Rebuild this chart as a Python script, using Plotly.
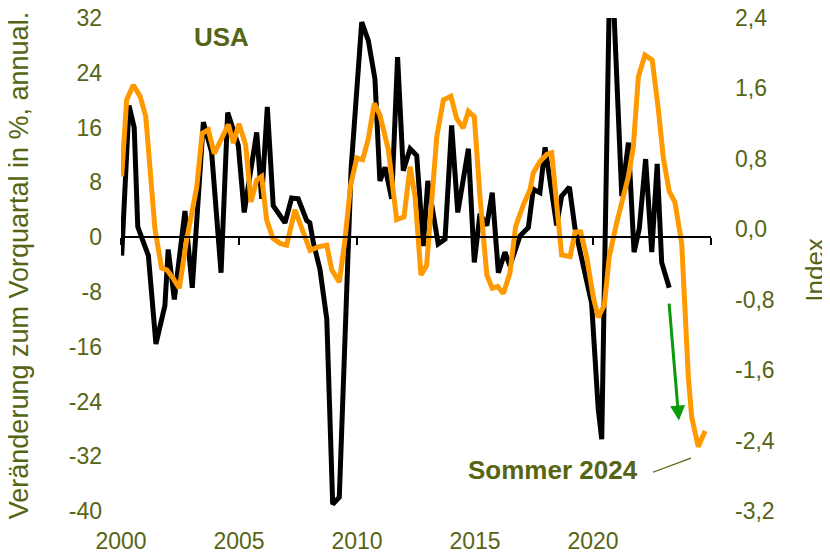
import plotly.graph_objects as go

# ---- data ----
black_t = [2000.03, 2000.34, 2000.56, 2000.71, 2001.16, 2001.48, 2001.86, 2002.00, 2002.26, 2002.71,
           2003.02, 2003.49, 2003.84, 2004.24, 2004.52, 2004.97, 2005.22, 2005.75, 2005.96, 2006.20,
           2006.45, 2006.95, 2007.23, 2007.51, 2007.87, 2008.00, 2008.15, 2008.43, 2008.72, 2008.97,
           2009.25, 2009.50, 2009.75, 2010.20, 2010.48, 2010.76, 2010.97, 2011.19, 2011.47, 2011.72,
           2011.96, 2012.25, 2012.53, 2012.81, 2013.00, 2013.44, 2013.73, 2014.01, 2014.27, 2014.72,
           2014.97, 2015.21, 2015.50, 2015.73, 2015.99, 2016.27, 2016.48, 2016.91, 2017.26, 2017.47,
           2017.75, 2017.97, 2018.46, 2018.67, 2019.00, 2019.24, 2019.66, 2019.94, 2020.22, 2020.37,
           2020.74, 2021.07, 2021.22, 2021.50, 2021.74, 2021.96, 2022.23, 2022.49, 2022.72, 2022.91,
           2023.23]
black_v = [-2.7, 19.2, 16.0, 1.5, -2.7, -15.6, -10.0, -1.8, -9.1, 3.8,
           -7.4, 16.8, 12.4, -5.2, 18.2, 13.4, 3.6, 15.3, 5.6, 19.0,
           4.6, 2.1, 5.7, 5.6, 2.4, 2.1, -0.8, -4.7, -12.0, -39.0,
           -38.0, -14.0, 10.0, 31.4, 28.7, 23.1, 8.2, 10.2, 5.6, 26.3,
           9.7, 12.9, 11.9, -1.3, 8.2, -1.0, -0.3, 16.3, 3.6, 12.9,
           -3.7, 3.4, 1.7, 6.5, -5.2, -2.2, -4.2, 0.2, 1.4, 7.0,
           6.5, 13.1, 1.7, 6.0, 7.3, 1.2, -5.7, -9.6, -25.0, -29.5,
           45.0, 19.7, 6.0, 13.8, -2.2, 1.2, 11.4, -2.2, 10.7, -3.7,
           -7.4]

orange_t = [2000.03, 2000.24, 2000.52, 2000.81, 2001.05, 2001.44, 2001.72, 2001.94, 2002.22, 2002.47,
            2002.78, 2003.21, 2003.44, 2003.70, 2003.95, 2004.24, 2004.55, 2004.76, 2005.00, 2005.28,
            2005.51, 2005.75, 2005.96, 2006.17, 2006.43, 2006.74, 2007.02, 2007.37, 2007.72, 2008.01,
            2008.36, 2008.72, 2008.93, 2009.25, 2009.49, 2009.73, 2009.99, 2010.24, 2010.48, 2010.73,
            2010.97, 2011.33, 2011.68, 2011.99, 2012.25, 2012.46, 2012.71, 2012.95, 2013.38, 2013.66,
            2013.98, 2014.22, 2014.50, 2014.72, 2014.97, 2015.21, 2015.50, 2015.73, 2015.96, 2016.20,
            2016.48, 2016.72, 2017.05, 2017.33, 2017.47, 2017.75, 2018.04, 2018.25, 2018.39, 2018.67,
            2019.03, 2019.24, 2019.48, 2019.73, 2020.01, 2020.22, 2020.48, 2020.69, 2021.00, 2021.50,
            2021.71, 2021.92, 2022.20, 2022.51, 2022.77, 2022.98, 2023.23, 2023.47, 2023.76, 2023.90,
            2024.04, 2024.18, 2024.46, 2024.75]
orange_v = [0.60, 1.47, 1.64, 1.51, 1.28, 0.00, -0.44, -0.46, -0.56, -0.67,
            -0.12, 0.48, 1.09, 1.13, 0.86, 1.03, 1.19, 0.98, 1.20, 0.96,
            0.31, 0.56, 0.60, 0.11, -0.10, -0.16, -0.18, 0.22, -0.05, -0.24,
            -0.20, -0.18, -0.46, -0.60, -0.12, 0.50, 0.81, 0.79, 1.03, 1.43,
            1.30, 0.90, 0.11, 0.14, 0.71, 0.37, -0.52, -0.41, 1.05, 1.47,
            1.51, 1.26, 1.15, 1.34, 1.28, 0.37, -0.52, -0.67, -0.65, -0.73,
            -0.50, 0.03, 0.28, 0.45, 0.64, 0.77, 0.85, 0.87, 0.48, -0.29,
            -0.31, -0.03, -0.03, -0.31, -0.77, -1.00, -0.86, -0.31, 0.07, 0.60,
            0.94, 1.73, 1.98, 1.92, 1.36, 0.81, 0.43, 0.31, -0.16, -0.92,
            -1.68, -2.13, -2.47, -2.29]

x_label_vals = [2000, 2005, 2010, 2015, 2020]
x_label_text = ["2000", "2005", "2010", "2015", "2020"]
x_tick_vals = [2000, 2005, 2010, 2015, 2020, 2025]
left_tick_vals = [-40, -32, -24, -16, -8, 0, 8, 16, 24, 32]
left_tick_text = ["-40", "-32", "-24", "-16", "-8", "0", "8", "16", "24", "32"]
right_tick_vals = [-3.2, -2.4, -1.6, -0.8, 0.0, 0.8, 1.6, 2.4]
right_tick_text = ["-3,2", "-2,4", "-1,6", "-0,8", "0,0", "0,8", "1,6", "2,4"]

OLIVE = "#566514"
ORANGE = "#FF9900"
GREEN = "#0A9A0A"
FONT = "Liberation Sans, Arial, sans-serif"

fig = go.Figure()
fig.add_trace(go.Scatter(x=black_t, y=black_v, mode="lines",
                         line=dict(color="black", width=5), xaxis="x", yaxis="y",
                         showlegend=False))
fig.add_trace(go.Scatter(x=orange_t, y=orange_v, mode="lines",
                         line=dict(color=ORANGE, width=5), xaxis="x", yaxis="y2",
                         showlegend=False))
# invisible trace to activate xaxis2 (the zero-line axis with its ticks)
fig.add_trace(go.Scatter(x=[2000, 2025], y=[0, 0], mode="lines", line=dict(width=0),
                         xaxis="x2", yaxis="y", showlegend=False, hoverinfo="skip"))

fig.update_layout(
    width=830, height=556,
    margin=dict(l=113, r=127, t=10, b=53, autoexpand=False),
    paper_bgcolor="white", plot_bgcolor="white",
    font=dict(family=FONT, color=OLIVE, size=23),
    xaxis=dict(range=[2000, 2025], tickvals=x_label_vals, ticktext=x_label_text,
               showgrid=False, zeroline=False, showline=False, ticks="", automargin=False,
               ticklabeloverflow="allow",
               ticklabelstandoff=14, tickfont=dict(size=23, color=OLIVE)),
    xaxis2=dict(range=[2000, 2025], overlaying="x", anchor="free", automargin=False,
                position=40 / 72, side="bottom", showgrid=False, zeroline=False,
                showline=True, linecolor="black", linewidth=1.6,
                ticks="outside", ticklen=7, tickwidth=1.6, tickcolor="black",
                tickvals=x_tick_vals, showticklabels=False),
    yaxis=dict(range=[-40, 32], tickvals=left_tick_vals, ticktext=left_tick_text,
               showgrid=False, zeroline=False, showline=False, ticks="", automargin=False,
               ticklabeloverflow="allow",
               ticklabelstandoff=18, tickfont=dict(size=23, color=OLIVE)),
    yaxis2=dict(range=[-3.2, 2.4], overlaying="y", side="right", automargin=False,
                tickvals=right_tick_vals, ticktext=right_tick_text,
                showgrid=False, zeroline=False, showline=False, ticks="",
                ticklabeloverflow="allow",
                ticklabelstandoff=23, tickfont=dict(size=23, color=OLIVE)),
)

annotations = [
    dict(text="<b>USA</b>", xref="paper", yref="paper", x=0.171, y=0.961,
         xanchor="center", yanchor="middle", showarrow=False,
         font=dict(size=26, color=OLIVE, family=FONT)),
    dict(text="Veränderung zum Vorquartal in %, annual.", xref="paper", yref="paper",
         x=-0.1725, y=0.497, xanchor="center", yanchor="middle", textangle=-90,
         showarrow=False, font=dict(size=27, color=OLIVE, family=FONT)),
    dict(text="Index", xref="paper", yref="paper", x=1.176, y=0.489,
         xanchor="center", yanchor="middle", textangle=-90,
         showarrow=False, font=dict(size=26, color=OLIVE, family=FONT)),
    dict(text="<b>Sommer 2024</b>", xref="x", yref="y2", x=2018.3, y=-2.735,
         xanchor="center", yanchor="middle",
         showarrow=False, font=dict(size=26, color=OLIVE, family=FONT)),
    dict(text="", xref="x", yref="y", x=2023.64, y=-26.8, axref="x", ayref="y",
         ax=2023.22, ay=-9.5, showarrow=True, arrowhead=2, arrowsize=1.0,
         arrowwidth=3, arrowcolor=GREEN, standoff=0, startstandoff=0),
]
fig.update_layout(annotations=annotations)
fig.add_shape(type="line", xref="x", yref="y2", x0=2022.54, y0=-2.76, x1=2024.15, y1=-2.60,
              line=dict(color=OLIVE, width=1.3))

fig.write_html("out.html")
